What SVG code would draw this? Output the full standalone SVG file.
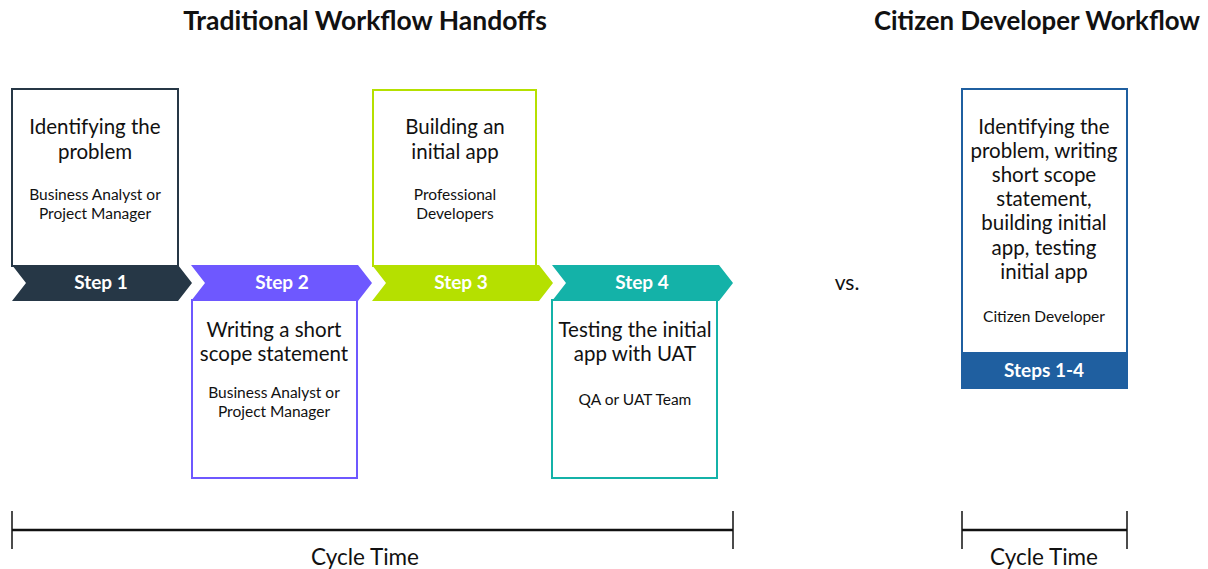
<svg xmlns="http://www.w3.org/2000/svg" width="1208" height="569" viewBox="0 0 1208 569">
<style>
.h{font-family:Lato,"Liberation Sans",sans-serif;font-weight:bold;font-size:26.5px;fill:#111;text-anchor:middle}
.t{font-family:Lato,"Liberation Sans",sans-serif;font-size:20.5px;fill:#111;text-anchor:middle}
.s{font-family:Lato,"Liberation Sans",sans-serif;font-size:15.5px;fill:#111;text-anchor:middle}
.st{font-family:Lato,"Liberation Sans",sans-serif;font-weight:bold;font-size:19px;fill:#fff;text-anchor:middle}
.c{font-family:Lato,"Liberation Sans",sans-serif;font-size:22.5px;fill:#111;text-anchor:middle}
.box{fill:#fff;stroke-width:2}
.tl{stroke:#111;fill:none}
</style>
<rect width="1208" height="569" fill="#fff"/>
<text class="h" x="365" y="30">Traditional Workflow Handoffs</text>
<text class="h" x="1037" y="30" style="font-size:25.8px">Citizen Developer Workflow</text>

<g id="step1">
<rect class="box" x="12" y="89" width="166" height="177" stroke="#263746"/>
<polygon points="12,265 178,265 192,283 178,301 12,301 26,283" fill="#263746"/>
<text class="t" x="95" y="134">Identifying the</text>
<text class="t" x="95" y="159">problem</text>
<text class="s" x="95" y="200">Business Analyst or</text>
<text class="s" x="95" y="219">Project Manager</text>
<text class="st" x="101" y="289">Step 1</text>
</g>
<g id="step2">
<rect class="box" x="192" y="300" width="165" height="178" stroke="#6e58ff"/>
<polygon points="191,265 358,265 372,283 358,301 191,301 205,283" fill="#6e58ff"/>
<text class="t" x="274" y="337">Writing a short</text>
<text class="t" x="274" y="361">scope statement</text>
<text class="s" x="274" y="398">Business Analyst or</text>
<text class="s" x="274" y="417">Project Manager</text>
<text class="st" x="282" y="289">Step 2</text>
</g>
<g id="step3">
<rect class="box" x="373" y="90" width="163" height="176" stroke="#b5e000"/>
<polygon points="372,265 539,265 553,283 539,301 372,301 386,283" fill="#b5e000"/>
<text class="t" x="455" y="134">Building an</text>
<text class="t" x="455" y="159">initial app</text>
<text class="s" x="455" y="200">Professional</text>
<text class="s" x="455" y="219">Developers</text>
<text class="st" x="461" y="289">Step 3</text>
</g>
<g id="step4">
<rect class="box" x="552" y="300" width="165" height="178" stroke="#14b2a8"/>
<polygon points="552,265 719,265 733,283 719,301 552,301 566,283" fill="#14b2a8"/>
<text class="t" x="635" y="337">Testing the initial</text>
<text class="t" x="635" y="361">app with UAT</text>
<text class="s" x="635" y="405">QA or UAT Team</text>
<text class="st" x="642" y="289">Step 4</text>
</g>
<text id="vs" class="t" x="847" y="290" style="font-size:21px">vs.</text>
<g id="citizen">
<rect class="box" x="962" y="89" width="165" height="299" stroke="#1f5fa0"/>
<rect x="962" y="352" width="166" height="37" fill="#1f5fa0"/>
<text class="t" x="1044" y="134">Identifying the</text>
<text class="t" x="1044" y="158">problem, writing</text>
<text class="t" x="1044" y="182">short scope</text>
<text class="t" x="1044" y="206">statement,</text>
<text class="t" x="1044" y="230">building initial</text>
<text class="t" x="1044" y="255">app, testing</text>
<text class="t" x="1044" y="279">initial app</text>
<text class="s" x="1044" y="322">Citizen Developer</text>
<text class="st" x="1044" y="377">Steps 1-4</text>
</g>
<g id="connectors">
<path class="tl" stroke-width="2.5" d="M12,530 H733 M962,530 H1127"/>
<path class="tl" stroke-width="1.5" d="M12,511 V549 M733,511 V549 M962,511 V549 M1127,511 V549"/>
</g>
<text class="c" x="365" y="565">Cycle Time</text>
<text class="c" x="1044" y="565">Cycle Time</text>
</svg>
